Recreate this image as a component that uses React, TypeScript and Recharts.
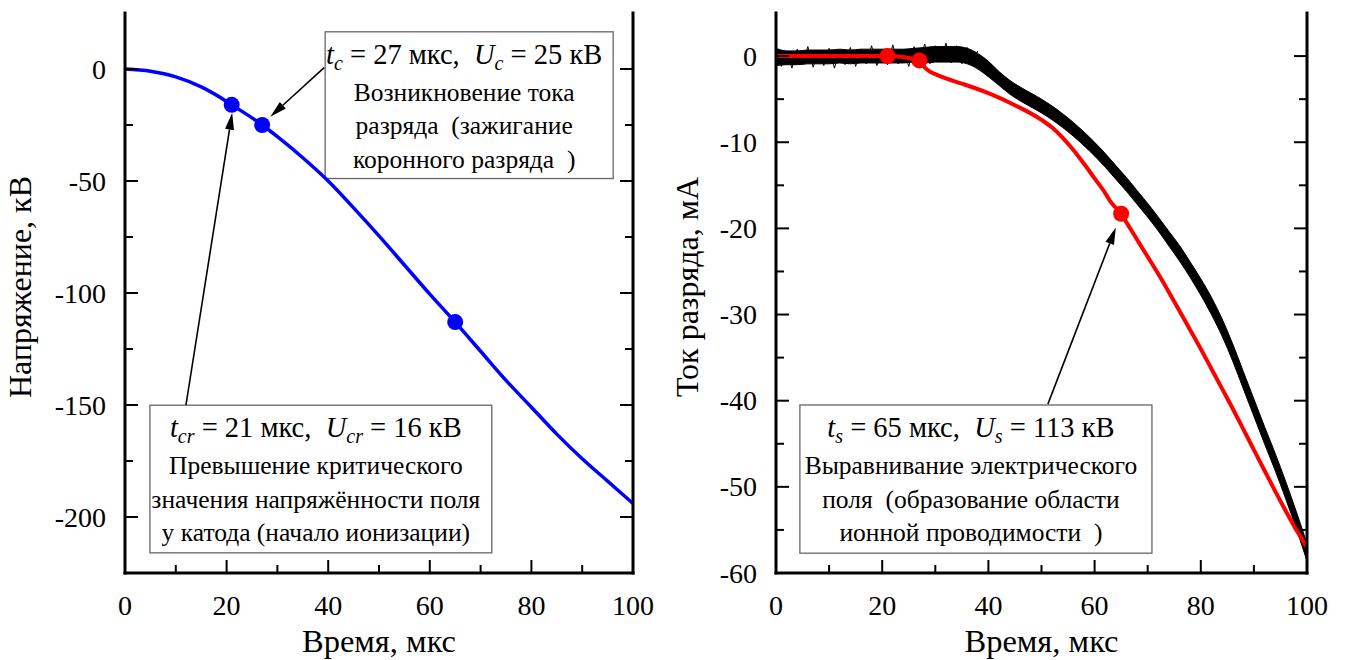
import React from 'react';
import { ComposedChart, Line, Area, Scatter, XAxis, YAxis, ReferenceArea, ReferenceLine } from 'recharts';

const FONT = '"Liberation Serif", "Times New Roman", serif';

// ---------- Left panel: voltage ----------
const voltageTime = [0, 5, 10, 15, 20, 21, 25, 27, 30, 35, 40, 45, 50, 55, 60, 65, 70, 75, 80, 85, 90, 95, 100];
const voltageKV = [0, -1, -3.5, -8, -14.5, -16, -21.8, -25, -30.2, -39.6, -50, -62, -74.5, -87.5, -100.5, -113, -126, -139, -151, -163, -174, -184, -194];
const voltageMarkT = [21, 27, 65];
const voltageMarkV = [-16, -25, -113];

// ---------- Right panel: current ----------
const currentTime = [0, 2, 4, 6, 8, 10, 12, 14, 16, 18, 20, 22, 24, 26, 28, 30, 32, 34, 36, 38, 40, 42, 44, 46, 48, 50, 52, 54, 56, 58, 60, 62, 64, 66, 68, 70, 72, 74, 76, 78, 80, 82, 84, 86, 88, 90, 92, 94, 96, 98, 100];
const currentMeasured = [-0.1, -0.2, -0.2, -0.1, -0.1, -0.1, 0, -0.1, 0, 0, 0, 0, 0, 0.1, 0.1, 0.2, 0.2, 0.2, 0, -0.6, -1.5, -2.6, -3.6, -4.4, -5.1, -5.8, -6.6, -7.5, -8.5, -9.6, -10.8, -12.1, -13.5, -14.9, -16.4, -17.9, -19.5, -21.2, -22.9, -24.8, -26.8, -29.0, -31.5, -34.4, -37.6, -40.8, -44.0, -47.1, -50.4, -53.9, -57.6];
const currentNoise = [1.0, 0.8, 0.8, 0.8, 0.8, 0.8, 0.8, 0.8, 0.8, 0.8, 0.8, 0.8, 0.8, 0.8, 0.9, 0.9, 0.9, 0.9, 0.9, 0.9, 0.9, 0.8, 0.8, 0.8, 0.8, 0.8, 0.8, 0.8, 0.8, 0.8, 0.8, 0.8, 0.8, 0.8, 0.8, 0.8, 0.8, 0.85, 0.9, 0.9, 0.95, 1.0, 1.0, 1.0, 1.0, 1.0, 1.0, 1.0, 1.0, 1.0, 1.0];
// spiky fluctuations of the measured trace on its flat part
const spikeTime = [0, 1, 2, 3, 4, 5, 6, 7, 8, 9, 10, 11, 12, 13, 14, 15, 16, 17, 18, 19, 20, 21, 22, 23, 24, 25, 26, 27, 28, 29, 30, 31, 32, 33, 34, 35, 36, 37, 38];
const spikeCurrent = [0.9, -1.2, 0.6, -1.4, 0.8, -1.0, 1.1, -1.3, 0.7, -1.1, 0.9, -1.4, 0.6, -1.0, 1.0, -1.2, 0.8, -0.9, 1.2, -1.1, 0.7, -1.0, 1.3, -0.9, 0.8, -1.2, 1.1, -0.8, 1.4, -0.9, 1.2, -0.7, 1.5, -0.8, 1.2, -0.9, 1.0, -1.1, 0.6];
const modelTime = [0, 21, 27, 28, 29, 30, 32, 35, 40, 45, 50, 52, 54, 56, 58, 60, 62, 63, 64, 65, 66, 68, 70, 72, 74, 76, 78, 80, 82, 84, 86, 88, 90, 92, 94, 96, 98, 100];
const modelCurrent = [0, 0, -0.5, -1.3, -1.8, -2.1, -2.6, -3.2, -4.3, -5.7, -7.4, -8.3, -9.5, -10.9, -12.5, -14.2, -15.9, -16.9, -17.6, -18.3, -19.3, -21.3, -23.3, -25.3, -27.4, -29.6, -31.8, -34.0, -36.3, -38.6, -40.9, -43.3, -45.7, -48.1, -50.5, -52.8, -55.0, -57.0];
const currentMarkT = [21, 27, 65];
const currentMarkI = [0, -0.5, -18.3];

// ---------- ticks ----------
const timeTicks = [0, 10, 20, 30, 40, 50, 60, 70, 80, 90, 100];
const timeMajor = [0, 20, 40, 60, 80, 100];
const voltageTicks = [0, -25, -50, -75, -100, -125, -150, -175, -200];
const voltageMajor = [0, -50, -100, -150, -200];
const currentTicks = [0, -5, -10, -15, -20, -25, -30, -35, -40, -45, -50, -55, -60];
const currentMajor = [0, -10, -20, -30, -40, -50, -60];

// ---------- built tables ----------
const voltageData = voltageTime.map((t, i) => ({ t, v: voltageKV[i] }));
const voltageMarks = voltageMarkT.map((t, i) => ({ t, v: voltageMarkV[i] }));
const measuredData = currentTime.map((t, i) => ({ t, band: [currentMeasured[i] - currentNoise[i], currentMeasured[i] + currentNoise[i]] }));
const spikeData = spikeTime.map((t, i) => ({ t, v: spikeCurrent[i] }));
const modelData = modelTime.map((t, i) => ({ t, v: modelCurrent[i] }));
const currentMarks = currentMarkT.map((t, i) => ({ t, v: currentMarkI[i] }));

const MAJOR_LEN = 13;
const MINOR_LEN = 8;

type Side = 'bottom' | 'top' | 'left' | 'right';
const makeTick = (side: Side, major: number[], labels: boolean) => (p: any) => {
  const v = p.payload.value;
  const isMajor = major.includes(v);
  const len = isMajor ? MAJOR_LEN : MINOR_LEN;
  const { x, y } = p;
  let x2 = x, y2 = y;
  if (side === 'bottom') y2 = y - len;
  if (side === 'top') y2 = y + len;
  if (side === 'left') x2 = x + len;
  if (side === 'right') x2 = x - len;
  let label = null;
  if (labels && isMajor) {
    if (side === 'bottom') {
      label = <text x={x} y={y + 42} textAnchor="middle" fontSize={28} fontFamily={FONT} fill="#000">{String(v)}</text>;
    } else if (side === 'left') {
      label = <text x={x - 19} y={y + 9.5} textAnchor="end" fontSize={28} fontFamily={FONT} fill="#000">{String(v)}</text>;
    }
  }
  return (
    <g>
      <line x1={x} y1={y} x2={x2} y2={y2} stroke="#000" strokeWidth={2} />
      {label}
    </g>
  );
};

const sub = (main: string, s: string) => [
  <tspan key={main + 'm'} fontStyle="italic">{main}</tspan>,
  <tspan key={main + 's'} fontStyle="italic" fontSize={20} dy={6}>{s}</tspan>,
];

const makeTitle = (ts: string, tval: string, uval: string) => (
  <>
    {sub('t', ts)}
    <tspan dy={-6}>{` = ${tval} мкс,  `}</tspan>
    {sub('U', ts)}
    <tspan dy={-6}>{` = ${uval} кВ`}</tspan>
  </>
);

const boxShape = (title: React.ReactNode, lines: string[]) => (p: any) => {
  const { x, y, width, height } = p;
  const cx = x + width / 2 - 5;
  return (
    <g>
      <rect x={x} y={y} width={width} height={height} fill="#fff" stroke="#666" strokeWidth={1.3} />
      <text x={cx} y={y + 32} textAnchor="middle" fontSize={28.5} fontFamily={FONT} fill="#000" style={{ whiteSpace: 'pre' }}>{title}</text>
      {lines.map((s, i) => (
        <text key={i} x={cx} y={y + 69 + i * 33.5} textAnchor="middle" fontSize={25.5} fontFamily={FONT} fill="#000" style={{ whiteSpace: 'pre' }}>{s}</text>
      ))}
    </g>
  );
};

const arrowShape = (p: any) => {
  const { x1, y1, x2, y2 } = p;
  const dx = x2 - x1, dy = y2 - y1;
  const L = Math.hypot(dx, dy) || 1;
  const ux = dx / L, uy = dy / L;
  const hl = 17, hw = 4.5;
  const bx = x2 - ux * hl, by = y2 - uy * hl;
  return (
    <g>
      <line x1={x1} y1={y1} x2={bx} y2={by} stroke="#000" strokeWidth={1.6} />
      <polygon points={`${x2},${y2} ${bx - uy * hw},${by + ux * hw} ${bx + uy * hw},${by - ux * hw}`} fill="#000" />
    </g>
  );
};

const dot = (color: string) => (p: any) => <circle cx={p.cx} cy={p.cy} r={8} fill={color} />;

const axisLine = { stroke: '#000', strokeWidth: 3, strokeLinecap: 'square' as const };

const xTitle = (text: string) => (p: any) => {
  const vb = p.viewBox;
  return <text x={vb.x + vb.width / 2} y={vb.y + 79} textAnchor="middle" fontSize={32.5} fontFamily={FONT} fill="#000">{text}</text>;
};
const yTitle = (text: string, bx: number) => (p: any) => {
  const vb = p.viewBox;
  const cy = vb.y + vb.height / 2 - 6;
  return <text x={bx} y={cy} transform={`rotate(-90, ${bx}, ${cy})`} textAnchor="middle" fontSize={32} fontFamily={FONT} fill="#000">{text}</text>;
};

export default function App() {
  return (
    <div style={{ position: 'absolute', left: 0, top: 0, width: 1347, height: 660, background: '#fff' }}>
      <div style={{ position: 'absolute', left: 0, top: 0 }}>
        <ComposedChart width={660} height={660} data={voltageData} margin={{ top: 13, right: 0, bottom: 0, left: 0 }}>
          <XAxis dataKey="t" type="number" domain={[0, 100]} ticks={timeTicks} interval={0} allowDataOverflow
            height={87} tickSize={0} tickMargin={0} tickLine={false} axisLine={axisLine}
            tick={makeTick('bottom', timeMajor, true)} label={{ content: xTitle('Время, мкс') } as any} />
          <XAxis xAxisId="top" orientation="top" dataKey="t" type="number" domain={[0, 100]} ticks={timeTicks} interval={0} allowDataOverflow
            height={0} tickSize={0} tickMargin={0} tickLine={false} axisLine={axisLine} tick={makeTick('top', timeMajor, false)} />
          <YAxis type="number" domain={[-225, 25]} ticks={voltageTicks} interval={0} allowDataOverflow width={125}
            tickSize={0} tickMargin={0} tickLine={false} axisLine={axisLine} tick={makeTick('left', voltageMajor, true)}
            label={{ content: yTitle('Напряжение, кВ', 31) } as any} />
          <YAxis yAxisId="r" orientation="right" type="number" domain={[-225, 25]} ticks={voltageTicks} interval={0} allowDataOverflow width={27}
            tickSize={0} tickMargin={0} tickLine={false} axisLine={axisLine} tick={makeTick('right', voltageMajor, false)} />
          <Line dataKey="v" type="monotone" stroke="#0000ff" strokeWidth={3.5} dot={false} isAnimationActive={false} />
          <Scatter data={voltageMarks} dataKey="v" shape={dot('#0000ff')} isAnimationActive={false} />
          <ReferenceLine segment={[{ x: 39.2, y: 0.6 }, { x: 28.6, y: -21.3 }]} shape={arrowShape} ifOverflow="visible" />
          <ReferenceLine segment={[{ x: 12, y: -150 }, { x: 21.1, y: -19.5 }]} shape={arrowShape} ifOverflow="visible" />
          <ReferenceArea x1={39.4} x2={96.1} y1={16.6} y2={-48.9} ifOverflow="visible"
            shape={boxShape(makeTitle('c', '27', '25'), ['Возникновение тока', 'разряда  (зажигание', 'коронного разряда  )'])} />
          <ReferenceArea x1={4.9} x2={72.2} y1={-150.1} y2={-216} ifOverflow="visible"
            shape={boxShape(makeTitle('cr', '21', '16'), ['Превышение критического', 'значения напряжённости поля', 'у катода (начало ионизации)'])} />
        </ComposedChart>
      </div>
      <div style={{ position: 'absolute', left: 660, top: 0 }}>
        <ComposedChart width={687} height={660} data={measuredData} margin={{ top: 13, right: 0, bottom: 0, left: 0 }}>
          <XAxis dataKey="t" type="number" domain={[0, 100]} ticks={timeTicks} interval={0} allowDataOverflow
            height={87} tickSize={0} tickMargin={0} tickLine={false} axisLine={axisLine}
            tick={makeTick('bottom', timeMajor, true)} label={{ content: xTitle('Время, мкс') } as any} />
          <XAxis xAxisId="top" orientation="top" dataKey="t" type="number" domain={[0, 100]} ticks={timeTicks} interval={0} allowDataOverflow
            height={0} tickSize={0} tickMargin={0} tickLine={false} axisLine={axisLine} tick={makeTick('top', timeMajor, false)} />
          <YAxis type="number" domain={[-60, 5]} ticks={currentTicks} interval={0} allowDataOverflow width={116}
            tickSize={0} tickMargin={0} tickLine={false} axisLine={axisLine} tick={makeTick('left', currentMajor, true)}
            label={{ content: yTitle('Ток разряда, мА', 38) } as any} />
          <YAxis yAxisId="r" orientation="right" type="number" domain={[-60, 5]} ticks={currentTicks} interval={0} allowDataOverflow width={40}
            tickSize={0} tickMargin={0} tickLine={false} axisLine={axisLine} tick={makeTick('right', currentMajor, false)} />
          <Area dataKey="band" type="monotone" stroke="#000" strokeWidth={1} fill="#000" fillOpacity={1} isAnimationActive={false} />
          <Line data={spikeData} dataKey="v" type="linear" stroke="#000" strokeWidth={1} dot={false} isAnimationActive={false} />
          <Line data={modelData} dataKey="v" type="monotone" stroke="#ff0000" strokeWidth={4} dot={false} isAnimationActive={false} />
          <Scatter data={currentMarks} dataKey="v" shape={dot('#ff0000')} isAnimationActive={false} />
          <ReferenceLine segment={[{ x: 51.2, y: -40.4 }, { x: 64.0, y: -19.9 }]} shape={arrowShape} ifOverflow="visible" />
          <ReferenceArea x1={4.5} x2={70.8} y1={-40.5} y2={-57.7} ifOverflow="visible"
            shape={boxShape(makeTitle('s', '65', '113'), ['Выравнивание электрического', 'поля  (образование области', 'ионной проводимости  )'])} />
        </ComposedChart>
      </div>
    </div>
  );
}
